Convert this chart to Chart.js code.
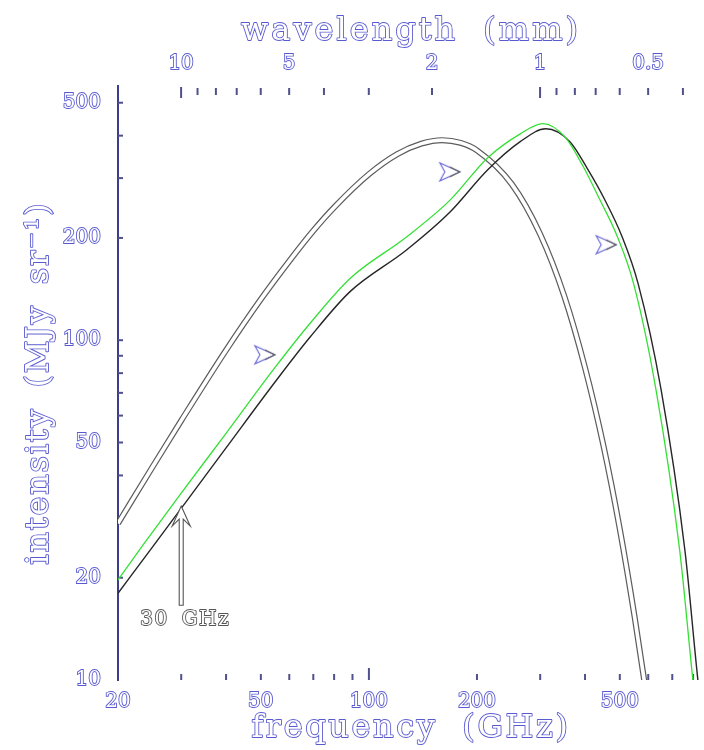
<!DOCTYPE html>
<html>
<head>
<meta charset="utf-8">
<script src="https://cdn.jsdelivr.net/npm/chart.js@4.4.1/dist/chart.umd.min.js"></script>
<style>
  html, body { margin: 0; padding: 0; background: #ffffff; overflow: hidden; }
  #wrap { width: 704px; height: 750px; position: relative; }
</style>
</head>
<body>
<div id="wrap"><canvas id="spectrum"></canvas></div>
<script>
// Blackbody-like spectrum (GHz -> MJy/sr), drawn as a hollow thick line
const cmbFreq = [20, 25, 30, 40, 50, 60, 70, 80, 100, 120, 140, 160, 180, 200, 250, 300, 350, 400, 450, 500, 550, 600];
const cmbInt  = [28.9, 42.5, 58, 93.5, 132, 171, 210, 246, 308, 353, 379, 388, 381, 362, 288, 205, 135, 83, 49, 27.8, 15.3, 8.3];

// Shifted spectrum, green trace
const greenFreq = [20, 23.3, 30, 40, 54.7, 68.5, 88.6, 127, 168, 214, 264, 305, 352, 395, 440, 492, 546, 630, 734, 799, 815];
const greenInt  = [19.7, 24.7, 35.5, 53.2, 83.0, 112, 152, 201, 258, 344, 405, 434, 396, 325, 259, 202, 147, 71.9, 24.1, 10, 8.3];

// Shifted spectrum, black trace
const blackFreq = [20, 25, 30, 40, 54.7, 68.5, 88.6, 127, 168, 214, 264, 311, 363, 408, 454, 507, 562, 651, 759, 825, 840];
const blackInt  = [18.0, 24.7, 32.0, 48.2, 75.2, 102, 139, 184, 238, 317, 384, 419, 384, 317, 259, 202, 147, 71.9, 24.1, 10, 8.5];

// Direction markers
const markerFreq = [51.3, 168, 458];
const markerInt  = [90.6, 313, 191];

// "30 GHz" annotation arrow
const arrowFreq = 30;
const arrowTipInt = 32.5;
const arrowTailInt = 16.6;
const arrowLabel = '30 GHz';

// Axis ticks
const freqLabelTicks = [20, 50, 100, 200, 500];
const freqMinorTicks = [30, 40, 50, 60, 70, 80, 90, 200, 300, 400, 500, 600, 700, 800];
const freqMajorTicks = [100];
const intLabelTicks = [10, 20, 50, 100, 200, 500];
const intMinorTicks = [20, 30, 40, 50, 60, 70, 80, 90, 100, 200, 300, 400, 500];
const waveLabelTicks = [0.5, 1, 2, 5, 10];
const waveMinorTicks = [9, 8, 7, 6, 5, 4, 3, 2, 0.9, 0.8, 0.7, 0.6, 0.5, 0.4];
const waveMajorTicks = [10, 1];

const xTitle = 'frequency (GHz)';
const x2Title = 'wavelength (mm)';
const yTitle = 'intensity (MJy sr\u207B\u00B9)';

const C_MM_GHZ = 299.792458;
const FREQ_MIN = 20, FREQ_MAX = 858;
const INT_MIN = 10, INT_MAX = 560;

const toXY = (xs, ys) => xs.map((x, i) => ({ x: x, y: ys[i] }));

// Hollow chevron used for the direction markers
function makeChevron() {
  const c = document.createElement('canvas');
  c.width = 24; c.height = 22;
  const g = c.getContext('2d');
  g.beginPath();
  g.moveTo(2, 2); g.lineTo(22, 11); g.lineTo(2, 20); g.lineTo(7, 11); g.closePath();
  g.fillStyle = '#ffffff'; g.fill();
  g.lineWidth = 1.1; g.strokeStyle = '#6464d8'; g.stroke();
  g.beginPath(); g.moveTo(12, 6); g.lineTo(22, 11); g.lineTo(12, 16);
  g.strokeStyle = '#5a5a5a'; g.stroke();
  return c;
}

const FONT = '"DejaVu Serif", "Liberation Serif", serif';

function hollowText(ctx, text, x, y, size, stroke, opts) {
  const o = opts || {};
  ctx.save();
  ctx.translate(x, y);
  if (o.rot) ctx.rotate(o.rot);
  ctx.font = size + 'px ' + FONT;
  if ('letterSpacing' in ctx) ctx.letterSpacing = (o.ls || 0) + 'px';
  if ('wordSpacing' in ctx) ctx.wordSpacing = (o.ws || 0) + 'px';
  ctx.textAlign = 'center';
  ctx.textBaseline = 'middle';
  ctx.lineJoin = 'round';
  ctx.lineWidth = 1.8;
  ctx.strokeStyle = stroke;
  ctx.strokeText(text, 0, 0);
  ctx.fillStyle = '#ffffff';
  ctx.fillText(text, 0, 0);
  ctx.restore();
}

const tickMarks = {
  id: 'tickMarks',
  beforeDatasetsDraw(chart) {
    const { ctx, chartArea: a, scales } = chart;
    ctx.save();
    ctx.strokeStyle = '#50508c';
    ctx.lineWidth = 2;
    const line = (x1, y1, x2, y2) => { ctx.beginPath(); ctx.moveTo(x1, y1); ctx.lineTo(x2, y2); ctx.stroke(); };
    freqMinorTicks.forEach(v => { const px = scales.x.getPixelForValue(v); line(px, a.bottom, px, a.bottom - 6); });
    freqMajorTicks.forEach(v => { const px = scales.x.getPixelForValue(v); line(px, a.bottom, px, a.bottom - 12); });
    intMinorTicks.forEach(v => { const py = scales.y.getPixelForValue(v); line(a.left, py, a.left + 5, py); });
    waveMinorTicks.forEach(v => { const px = scales.x2.getPixelForValue(v); line(px, a.top + 2, px, a.top + 9); });
    waveMajorTicks.forEach(v => { const px = scales.x2.getPixelForValue(v); line(px, a.top + 1, px, a.top + 12); });
    ctx.restore();
  }
};

const annotations = {
  id: 'annotations',
  afterDraw(chart) {
    const { ctx, chartArea: a, scales } = chart;
    // axis titles
    const cx = (a.left + a.right) / 2;
    hollowText(ctx, x2Title, cx, 32, 32, '#5a5ad0', { ls: 3, ws: 12 });
    hollowText(ctx, xTitle, cx, 729, 32, '#5a5ad0', { ls: 2.6, ws: 12 });
    hollowText(ctx, yTitle, 40, (a.top + a.bottom) / 2, 32, '#5a5ad0', { rot: -Math.PI / 2, ls: 1.8, ws: 8 });
    // hollow arrow pointing at the 30 GHz point
    const ax = scales.x.getPixelForValue(arrowFreq);
    const tip = scales.y.getPixelForValue(arrowTipInt);
    const tail = scales.y.getPixelForValue(arrowTailInt);
    ctx.save();
    ctx.beginPath();
    ctx.moveTo(ax, tip);
    ctx.lineTo(ax + 9, tip + 20);
    ctx.lineTo(ax + 2, tip + 13);
    ctx.lineTo(ax + 2, tail);
    ctx.lineTo(ax - 2, tail);
    ctx.lineTo(ax - 2, tip + 13);
    ctx.lineTo(ax - 9, tip + 20);
    ctx.closePath();
    ctx.fillStyle = '#ffffff'; ctx.fill();
    ctx.lineWidth = 1.1; ctx.strokeStyle = '#555555'; ctx.stroke();
    ctx.restore();
    hollowText(ctx, arrowLabel, ax + 4, tail + 15, 20, '#555555', { ls: 1.5, ws: 5 });
  }
};

const tickFont = { family: FONT, size: 20 };
const hollowTicks = { color: '#ffffff', textStrokeColor: '#5a5ad0', textStrokeWidth: 1.8, font: tickFont, autoSkip: false, maxRotation: 0 };

new Chart(document.getElementById('spectrum'), {
  type: 'line',
  data: {
    datasets: [
      { data: toXY(cmbFreq, cmbInt), borderColor: '#5c5c5c', borderWidth: 6, pointRadius: 0, cubicInterpolationMode: 'monotone', order: 5 },
      { data: toXY(cmbFreq, cmbInt), borderColor: '#ffffff', borderWidth: 3.6, pointRadius: 0, cubicInterpolationMode: 'monotone', order: 4 },
      { data: toXY(blackFreq, blackInt), borderColor: '#262626', borderWidth: 1.4, pointRadius: 0, cubicInterpolationMode: 'monotone', order: 3 },
      { data: toXY(greenFreq, greenInt), borderColor: '#35e035', borderWidth: 1.3, pointRadius: 0, cubicInterpolationMode: 'monotone', order: 2 },
      { data: toXY(markerFreq, markerInt), showLine: false, pointStyle: makeChevron(), pointRadius: 10, order: 1 }
    ]
  },
  options: {
    responsive: true,
    maintainAspectRatio: false,
    animation: false,
    events: [],
    layout: { padding: 0, autoPadding: false },
    plugins: { legend: { display: false }, tooltip: { enabled: false } },
    scales: {
      x: {
        type: 'logarithmic', position: 'bottom', bounds: 'data', min: FREQ_MIN, max: FREQ_MAX,
        grid: { display: false, drawTicks: false },
        border: { display: false },
        ticks: Object.assign({}, hollowTicks, { padding: 10, callback: v => String(v) }),
        afterBuildTicks: s => { s.ticks = freqLabelTicks.map(v => ({ value: v })); },
        afterFit: s => { s.height = 70; }
      },
      x2: {
        type: 'logarithmic', position: 'top', reverse: true, bounds: 'data',
        min: C_MM_GHZ / FREQ_MAX, max: C_MM_GHZ / FREQ_MIN,
        grid: { display: false, drawTicks: false },
        border: { display: false },
        ticks: Object.assign({}, hollowTicks, { padding: 10, callback: v => String(v) }),
        afterBuildTicks: s => { s.ticks = waveLabelTicks.map(v => ({ value: v })); },
        afterFit: s => { s.height = 86; }
      },
      y: {
        type: 'logarithmic', position: 'left', bounds: 'data', min: INT_MIN, max: INT_MAX,
        grid: { display: false, drawTicks: false },
        border: { display: true, color: '#3d3d8f', width: 2 },
        ticks: Object.assign({}, hollowTicks, { padding: 17, callback: v => String(v) }),
        afterBuildTicks: s => { s.ticks = intLabelTicks.map(v => ({ value: v })); },
        afterFit: s => { s.width = 118; }
      }
    }
  },
  plugins: [tickMarks, annotations]
});
</script>
</body>
</html>
